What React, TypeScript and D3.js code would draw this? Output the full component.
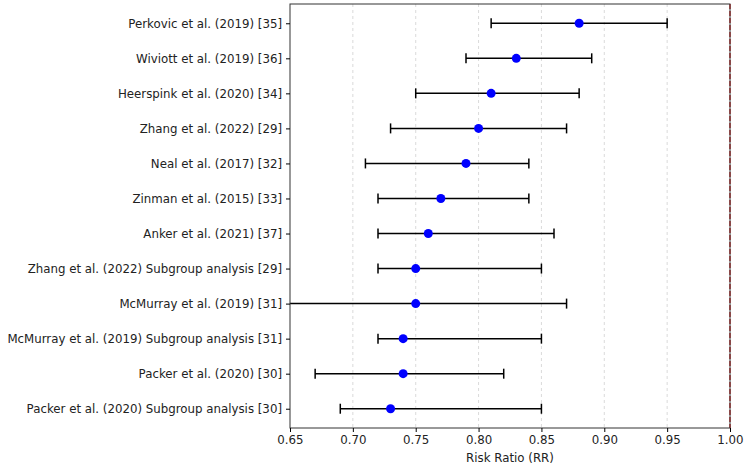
import React, { useRef, useEffect } from 'react';
import * as d3 from 'd3';

const studies = [
  'Perkovic et al. (2019) [35]',
  'Wiviott et al. (2019) [36]',
  'Heerspink et al. (2020) [34]',
  'Zhang et al. (2022) [29]',
  'Neal et al. (2017) [32]',
  'Zinman et al. (2015) [33]',
  'Anker et al. (2021) [37]',
  'Zhang et al. (2022) Subgroup analysis [29]',
  'McMurray et al. (2019) [31]',
  'McMurray et al. (2019) Subgroup analysis [31]',
  'Packer et al. (2020) [30]',
  'Packer et al. (2020) Subgroup analysis [30]',
];
const rr = [0.88, 0.83, 0.81, 0.8, 0.79, 0.77, 0.76, 0.75, 0.75, 0.74, 0.74, 0.73];
const lower = [0.81, 0.79, 0.75, 0.73, 0.71, 0.72, 0.72, 0.72, 0.64, 0.72, 0.67, 0.69];
const upper = [0.95, 0.89, 0.88, 0.87, 0.84, 0.84, 0.86, 0.85, 0.87, 0.85, 0.82, 0.85];
const xTicks = [0.65, 0.7, 0.75, 0.8, 0.85, 0.9, 0.95, 1.0];

const App = () => {
  const ref = useRef<SVGSVGElement>(null);

  useEffect(() => {
    const svg = d3.select(ref.current);
    svg.selectAll('*').remove();

    const width = 750;
    const height = 473;
    const margin = { top: 4, right: 20, bottom: 45, left: 290 };
    const font = 'DejaVu Sans, sans-serif';
    const fontSize = 11.8;

    const x = d3.scaleLinear()
      .domain([0.65, 1.0])
      .range([margin.left, width - margin.right]);

    // first study at the top, matplotlib-like padding
    const y = d3.scaleLinear()
      .domain([11.55, -0.55])
      .range([margin.top, height - margin.bottom]);

    const data = studies.map((s, i) => ({
      study: s, rr: rr[i], lo: lower[i], hi: upper[i], pos: studies.length - 1 - i,
    }));

    svg.append('defs').append('clipPath').attr('id', 'plot-clip')
      .append('rect')
      .attr('x', margin.left)
      .attr('y', margin.top)
      .attr('width', width - margin.left - margin.right)
      .attr('height', height - margin.top - margin.bottom);

    // Grid
    svg.append('g')
      .selectAll('line')
      .data(xTicks.slice(1, -1))
      .enter()
      .append('line')
      .attr('x1', d => x(d))
      .attr('x2', d => x(d))
      .attr('y1', margin.top)
      .attr('y2', height - margin.bottom)
      .attr('stroke', '#d0d0d0')
      .attr('stroke-width', 0.8)
      .attr('stroke-dasharray', '3,3');

    const plot = svg.append('g').attr('clip-path', 'url(#plot-clip)');

    // Error bars
    const bars = plot.selectAll('g.bar')
      .data(data)
      .enter()
      .append('g')
      .attr('class', 'bar');

    bars.append('line')
      .attr('x1', d => x(d.lo))
      .attr('x2', d => x(d.hi))
      .attr('y1', d => y(d.pos))
      .attr('y2', d => y(d.pos))
      .attr('stroke', '#000')
      .attr('stroke-width', 1.5);

    bars.selectAll('line.cap')
      .data(d => [d.lo, d.hi].map(v => ({ v, pos: d.pos })))
      .enter()
      .append('line')
      .attr('class', 'cap')
      .attr('x1', d => x(d.v))
      .attr('x2', d => x(d.v))
      .attr('y1', d => y(d.pos) - 5)
      .attr('y2', d => y(d.pos) + 5)
      .attr('stroke', '#000')
      .attr('stroke-width', 1.5);

    bars.append('circle')
      .attr('cx', d => x(d.rr))
      .attr('cy', d => y(d.pos))
      .attr('r', 4.5)
      .attr('fill', '#0000ff');

    // Reference line at RR = 1
    svg.append('line')
      .attr('x1', x(1))
      .attr('x2', x(1))
      .attr('y1', margin.top)
      .attr('y2', height - margin.bottom)
      .attr('stroke', '#d62728')
      .attr('stroke-width', 1.5)
      .attr('stroke-dasharray', '5,2');

    // Frame
    svg.append('rect')
      .attr('x', margin.left)
      .attr('y', margin.top)
      .attr('width', width - margin.left - margin.right)
      .attr('height', height - margin.top - margin.bottom)
      .attr('fill', 'none')
      .attr('stroke', '#333')
      .attr('stroke-width', 1);

    // Axes
    const xAxis = svg.append('g')
      .attr('transform', `translate(0,${height - margin.bottom})`)
      .call(d3.axisBottom(x).tickValues(xTicks).tickFormat(d3.format('.2f')).tickSize(4).tickPadding(4));
    xAxis.select('.domain').remove();
    xAxis.selectAll('text').attr('font-family', font).attr('font-size', fontSize).attr('fill', '#222');

    const yAxis = svg.append('g')
      .attr('transform', `translate(${margin.left},0)`)
      .call(d3.axisLeft(y).tickValues(data.map(d => d.pos))
        .tickFormat((d, i) => data[i].study).tickSize(4).tickPadding(4));
    yAxis.select('.domain').remove();
    yAxis.selectAll('text').attr('font-family', font).attr('font-size', fontSize).attr('fill', '#222');

    svg.append('text')
      .attr('x', (margin.left + width - margin.right) / 2)
      .attr('y', height - 11)
      .attr('text-anchor', 'middle')
      .attr('font-family', font)
      .attr('font-size', fontSize)
      .attr('fill', '#222')
      .text('Risk Ratio (RR)');
  }, []);

  return <svg ref={ref} width={750} height={473} style={{ position: 'absolute', left: 0, top: 0 }}></svg>;
};

export default App;
